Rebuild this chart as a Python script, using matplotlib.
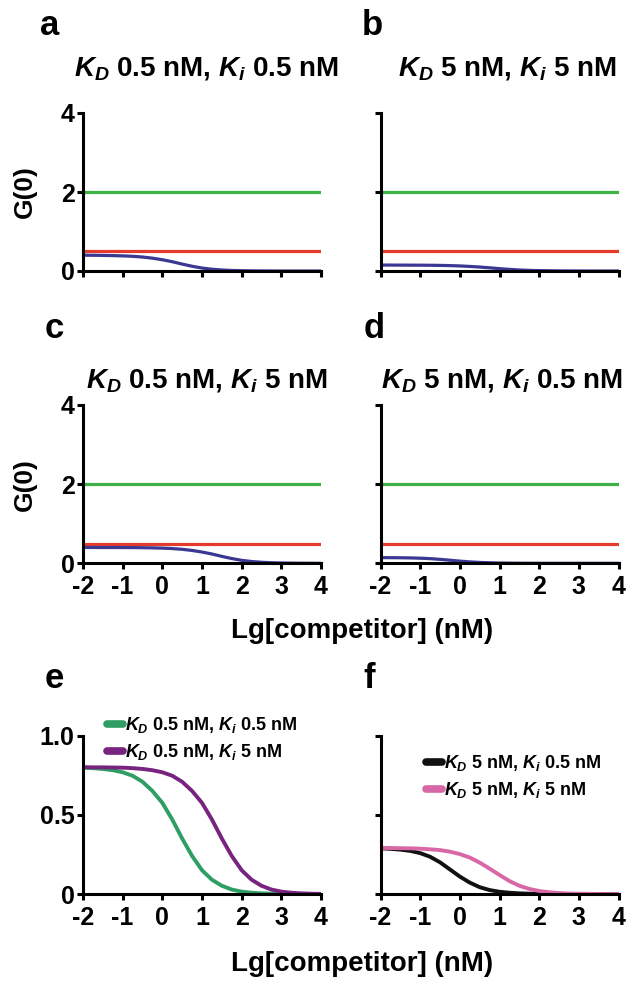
import matplotlib
matplotlib.use("Agg")
from matplotlib import pyplot as plt

plt.rcParams['font.family'] = ['Liberation Sans', 'DejaVu Sans']
plt.rcParams['font.weight'] = 'bold'
plt.rcParams['axes.labelweight'] = 'bold'
plt.rcParams['mathtext.fontset'] = 'custom'
plt.rcParams['mathtext.it'] = 'Liberation Sans:italic:bold'
plt.rcParams['mathtext.rm'] = 'Liberation Sans:bold'
plt.rcParams['axes.unicode_minus'] = False

# log10 of competitor concentration (nM)
lg_conc = [-2.0, -1.75, -1.5, -1.25, -1.0, -0.75, -0.5, -0.25, 0.0, 0.25, 0.5, 0.75,
           1.0, 1.25, 1.5, 1.75, 2.0, 2.25, 2.5, 2.75, 3.0, 3.25, 3.5, 3.75, 4.0]

# panels a-d: constant reference levels and the competition curve
g_green = [2.0] * 25
g_red = [0.5] * 25
blue_a = [0.400, 0.398, 0.395, 0.390, 0.383, 0.372, 0.354, 0.325, 0.285, 0.235, 0.175, 0.120,
          0.075, 0.045, 0.026, 0.014, 0.008, 0.004, 0.002, 0.001, 0.0, 0.0, 0.0, 0.0, 0.0]
blue_b = [0.150, 0.150, 0.149, 0.148, 0.147, 0.145, 0.142, 0.137, 0.128, 0.116, 0.100, 0.081,
          0.060, 0.041, 0.026, 0.016, 0.010, 0.006, 0.003, 0.002, 0.001, 0.0, 0.0, 0.0, 0.0]
blue_c = [0.400, 0.400, 0.399, 0.399, 0.398, 0.397, 0.394, 0.390, 0.383, 0.372, 0.354, 0.325,
          0.285, 0.235, 0.175, 0.120, 0.075, 0.045, 0.026, 0.014, 0.008, 0.004, 0.002, 0.001, 0.0]
blue_d = [0.144, 0.142, 0.140, 0.136, 0.129, 0.118, 0.100, 0.078, 0.055, 0.036, 0.022, 0.013,
          0.007, 0.004, 0.002, 0.001, 0.0, 0.0, 0.0, 0.0, 0.0, 0.0, 0.0, 0.0, 0.0]

# panels e-f
e_kd05_ki05 = [0.797, 0.794, 0.789, 0.781, 0.768, 0.746, 0.708, 0.650, 0.575, 0.470, 0.350, 0.240,
               0.150, 0.090, 0.052, 0.028, 0.015, 0.008, 0.004, 0.002, 0.001, 0.0, 0.0, 0.0, 0.0]
e_kd05_ki5 = [0.800, 0.799, 0.799, 0.798, 0.797, 0.794, 0.789, 0.781, 0.768, 0.746, 0.708, 0.650,
              0.575, 0.470, 0.350, 0.240, 0.150, 0.090, 0.052, 0.028, 0.015, 0.008, 0.004, 0.002, 0.001]
f_kd5_ki05 = [0.288, 0.285, 0.280, 0.272, 0.258, 0.235, 0.200, 0.155, 0.110, 0.072, 0.043, 0.025,
              0.014, 0.008, 0.004, 0.002, 0.001, 0.0, 0.0, 0.0, 0.0, 0.0, 0.0, 0.0, 0.0]
f_kd5_ki5 = [0.290, 0.290, 0.289, 0.288, 0.286, 0.282, 0.277, 0.267, 0.252, 0.230, 0.198, 0.160,
             0.120, 0.082, 0.052, 0.032, 0.019, 0.011, 0.006, 0.003, 0.002, 0.001, 0.0, 0.0, 0.0]

x_ticks = [-2, -1, 0, 1, 2, 3, 4]
x_ticklabels = ['-2', '-1', '0', '1', '2', '3', '4']

titles = {
    'a': r'$K_D$ 0.5 nM, $K_i$ 0.5 nM',
    'b': r'$K_D$ 5 nM, $K_i$ 5 nM',
    'c': r'$K_D$ 0.5 nM, $K_i$ 5 nM',
    'd': r'$K_D$ 5 nM, $K_i$ 0.5 nM',
}

W, H = 627, 982
fig = plt.figure(figsize=(W / 100, H / 100), dpi=100)


def px_axes(x0, y_top, x1, y_bot):
    return fig.add_axes([x0 / W, 1 - y_bot / H, (x1 - x0) / W, (y_bot - y_top) / H])


def style(ax, yticks, ylabels, xlabels):
    for s in ['top', 'right']:
        ax.spines[s].set_visible(False)
    for s in ['left', 'bottom']:
        ax.spines[s].set_linewidth(2.2)
    ax.set_xlim(-2, 4)
    ax.set_ylim(yticks[0], yticks[-1])
    ax.set_xticks(x_ticks)
    ax.set_yticks(yticks)
    ax.set_xticklabels(x_ticklabels if xlabels else [])
    ax.set_yticklabels(ylabels if ylabels else [])
    ax.tick_params(direction='out', length=4.5, width=2.2, labelsize=18)
    ax.tick_params(axis='x', pad=4)
    ax.tick_params(axis='y', pad=1.5)


cols = [(83, 321), (380.5, 618.5)]
rows = [(113, 271), (405, 563.3), (735.5, 894)]

blues = {'a': blue_a, 'b': blue_b, 'c': blue_c, 'd': blue_d}
for i, key in enumerate('abcd'):
    r, c = divmod(i, 2)
    ax = px_axes(cols[c][0], rows[r][0], cols[c][1], rows[r][1])
    ax.plot(lg_conc, g_green, color='#3fb245', lw=2.3)
    ax.plot(lg_conc, g_red, color='#e53b2c', lw=2.3)
    ax.plot(lg_conc, blues[key], color='#3b3894', lw=2.3, solid_joinstyle='round')
    style(ax, [0, 2, 4], ['0', '2', '4'] if c == 0 else None, r == 1)
    if c == 0:
        ax.set_ylabel('G(0)', fontsize=19)
        ax.yaxis.set_label_coords(-0.195, 0.5)

ax_e = px_axes(cols[0][0], rows[2][0], cols[0][1], rows[2][1])
ax_e.plot(lg_conc, e_kd05_ki05, color='#2f9e64', lw=2.8, solid_joinstyle='round',
          label=r'$K_D$ 0.5 nM, $K_i$ 0.5 nM')
ax_e.plot(lg_conc, e_kd05_ki5, color='#78237f', lw=2.8, solid_joinstyle='round',
          label=r'$K_D$ 0.5 nM, $K_i$ 5 nM')
style(ax_e, [0, 0.5, 1.0], ['0', '0.5', '1.0'], True)

ax_f = px_axes(cols[1][0], rows[2][0], cols[1][1], rows[2][1])
ax_f.plot(lg_conc, f_kd5_ki05, color='#111111', lw=2.8, solid_joinstyle='round',
          label=r'$K_D$ 5 nM, $K_i$ 0.5 nM')
ax_f.plot(lg_conc, f_kd5_ki5, color='#d867a6', lw=2.8, solid_joinstyle='round',
          label=r'$K_D$ 5 nM, $K_i$ 5 nM')
style(ax_f, [0, 0.5, 1.0], None, True)

for ax, anchor in [(ax_e, (0.10, 1.13)), (ax_f, (0.19, 0.89))]:
    leg = ax.legend(loc='upper left', bbox_to_anchor=anchor, frameon=False, fontsize=13,
                    handlelength=0.9, handletextpad=0.12, labelspacing=0.4,
                    borderpad=0, borderaxespad=0)
    for ln in leg.get_lines():
        ln.set_linewidth(5.5)
        ln.set_solid_capstyle('round')

# titles and panel letters
for key, xc, yb in [('a', 206, 75), ('b', 507, 75), ('c', 207, 388), ('d', 502, 388)]:
    fig.text(xc / W, 1 - yb / H, titles[key], ha='center', va='baseline', fontsize=20)

for key, x, yb in [('a', 40, 35), ('b', 362, 35), ('c', 45, 338), ('d', 364, 338),
                   ('e', 45, 688), ('f', 363, 688)]:
    fig.text(x / W, 1 - yb / H, key, ha='left', va='baseline', fontsize=25)

for yb in [638, 971]:
    fig.text(362 / W, 1 - yb / H, 'Lg[competitor] (nM)', ha='center', va='baseline', fontsize=20)

fig.savefig('out.png', dpi=100)
